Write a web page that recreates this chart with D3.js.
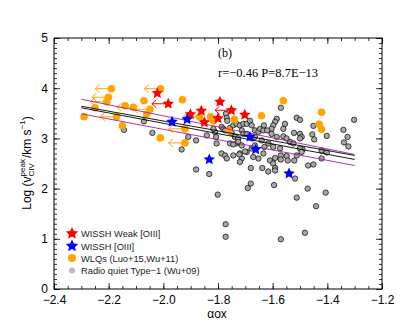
<!DOCTYPE html>
<html>
<head>
<meta charset="utf-8">
<script src="https://cdn.jsdelivr.net/npm/d3@7"></script>
<style>
  body { margin: 0; background: #fff; }
  svg { display: block; }
  .tick text { font-family: "Liberation Sans", Arial, sans-serif; font-size: 12px; fill: #000; }
</style>
</head>
<body>
<div id="chart"></div>
<script>
// Radio quiet Type-1 (Wu+09)
var grayX = [-2.144,-2.071,-2.040,-1.933,-1.909,-1.880,-1.880,-1.832,-1.801,-1.772,-1.772,
  -1.771,-1.768,-1.766,-1.787,-1.780,-1.774,-1.762,-1.756,-1.744,-1.732,-1.720,-1.707,-1.695,-1.683,-1.677,
  -1.713,-1.707,-1.695,-1.750,-1.738,-1.726,-1.677,-1.665,-1.732,-1.756,-1.744,-1.726,-1.713,
  -1.787,-1.774,-1.768,-1.720,-1.713,-1.695,-1.677,-1.665,-1.811,-1.807,-1.805,-1.841,-1.817,
  -1.665,-1.652,-1.646,-1.634,-1.640,-1.630,-1.722,-1.701,-1.720,-1.680,-1.680,-1.691,
  -1.652,-1.634,-1.638,-1.616,-1.610,-1.598,-1.591,-1.591,-1.591,-1.570,-1.570,-1.549,-1.545,-1.521,-1.512,
  -1.518,-1.595,-1.472,-1.512,-1.406,-1.441,-1.482,-1.570,-1.470,-1.451,-1.491,-1.421,-1.421,-1.402,-1.323,
  -1.570,-1.585,-1.591,-1.598,-1.604,-1.555,-1.561,-1.632,-1.620,-1.512,-1.500,-1.522,-1.500,-1.494,-1.500,
  -1.451,-1.455,-1.448,-1.402,-1.341,-1.326,-1.339,-1.302,-1.585,-1.561,-1.549,-1.537,-1.616,-1.500,-1.494,
  -1.604,-1.573,-1.598,-1.524,-1.671,-1.744];
var grayY = [3.17,3.34,3.11,2.78,3.03,2.96,2.38,2.29,1.88,1.29,1.04,
  3.49,3.41,3.35,3.23,3.19,3.16,3.16,3.21,3.26,3.29,3.26,3.29,3.29,3.35,3.26,
  3.16,3.09,3.09,3.11,3.03,3.00,3.00,3.03,2.90,2.90,2.88,2.93,2.86,
  2.70,2.66,2.60,2.70,2.60,2.73,2.80,2.86,3.13,3.03,2.90,3.06,3.19,
  3.16,3.13,3.19,3.16,2.96,2.83,2.68,2.74,2.53,2.41,2.10,2.01,
  2.60,2.70,2.41,2.34,2.56,2.50,2.41,2.36,2.61,2.66,2.58,2.65,2.56,2.56,2.66,
  2.20,2.07,2.00,1.82,1.92,1.65,1.12,0.99,2.46,2.48,2.78,2.76,2.60,2.72,2.84,
  3.61,3.39,3.33,3.26,3.19,3.29,3.19,3.26,3.16,3.41,3.37,3.11,3.09,3.03,3.00,
  3.25,3.08,2.98,3.05,3.17,3.03,2.92,3.37,3.03,3.04,3.00,2.93,2.90,2.80,2.73,
  3.09,2.80,2.83,2.90,2.63,2.66];

// WLQs (Luo+15, Wu+11); limit = upper limit on alpha_ox (arrow)
var wlqX = [-2.290,-2.250,-2.190,-2.201,-2.207,-2.140,-2.110,-2.171,-2.150,-2.071,-2.049,-2.061,-2.010,-2.011,
  -1.930,-1.921,-1.921,-1.868,-1.827,-1.817,-1.740,-1.761,-1.641,-1.561,-1.421,-1.430,-1.421];
var wlqY = [3.43,3.61,3.99,3.82,3.73,3.65,3.62,3.43,3.25,3.75,3.58,3.48,3.99,3.01,
  3.77,3.19,2.91,3.43,3.43,3.35,3.38,3.15,3.45,3.75,3.52,3.28,3.18];
var wlqLimit = [0,0,1,1,1,0,1,1,0,0,1,0,1,0,
  0,1,1,1,0,0,0,0,0,0,0,0,0];

// WISSH weak [OIII]
var weakX = [-2.022,-1.982,-1.901,-1.861,-1.850,-1.800,-1.793,-1.751,-1.702];
var weakY = [3.90,3.69,3.48,3.55,3.32,3.40,3.73,3.56,3.47];
var weakLimit = [0,1,0,0,0,0,0,1,0];

// WISSH [OIII]
var oiiiX = [-1.968,-1.913,-1.683,-1.662,-1.832,-1.540];
var oiiiY = [3.33,3.38,3.03,2.78,2.58,2.30];

// fits
var fitX = [-2.3, -1.3];
var fitBlackA = [3.64, 2.66];
var fitBlackB = [3.61, 2.58];
var fitUpper = [3.78, 2.68];
var fitLower = [3.49, 2.46];

var xTicks = [-2.4,-2.2,-2.0,-1.8,-1.6,-1.4,-1.2];
var yTicks = [0,1,2,3,4,5];

var legendLabels = ["WISSH Weak [OIII]", "WISSH [OIII]", "WLQs (Luo+15,Wu+11)", "Radio quiet Type\u22121 (Wu+09)"];

var width = 415, height = 332;
var plotL = 54, plotR = 382, plotT = 38, plotB = 289;
var arrowLen = 0.06;

var svg = d3.select("#chart").append("svg")
  .attr("width", width)
  .attr("height", height);

var x = d3.scaleLinear().domain([-2.4, -1.2]).range([plotL, plotR]);
var y = d3.scaleLinear().domain([0, 5]).range([plotB, plotT]);

function addAxis(axis, tx, ty, labels) {
  var g = svg.append("g").attr("transform", "translate(" + tx + "," + ty + ")").call(axis);
  g.select(".domain").remove();
  g.selectAll("line").attr("stroke", "#000").attr("stroke-width", 0.8);
  if (!labels) g.selectAll("text").remove();
  return g;
}

// fat five-point star, outer radius R
function starPath(R) {
  var pts = [];
  for (var k = 0; k < 10; k++) {
    var r = k % 2 ? R * 0.48 : R;
    var a = -Math.PI / 2 + k * Math.PI / 5;
    pts.push([r * Math.cos(a), r * Math.sin(a)]);
  }
  return "M" + pts.join("L") + "Z";
}

var xMinor = d3.range(-2.4, -1.199, 0.05);
var yMinor = d3.range(0, 5.001, 0.1);

// minor ticks, all four sides
addAxis(d3.axisBottom(x).tickValues(xMinor).tickSizeInner(-3).tickSizeOuter(0), 0, plotB, false);
addAxis(d3.axisTop(x).tickValues(xMinor).tickSizeInner(-3).tickSizeOuter(0), 0, plotT, false);
addAxis(d3.axisLeft(y).tickValues(yMinor).tickSizeInner(-3).tickSizeOuter(0), plotL, 0, false);
addAxis(d3.axisRight(y).tickValues(yMinor).tickSizeInner(-3).tickSizeOuter(0), plotR, 0, false);

// major ticks
addAxis(d3.axisBottom(x).tickValues(xTicks).tickFormat(d3.format(".1f")).tickSizeInner(-6).tickSizeOuter(0).tickPadding(6), 0, plotB, true);
addAxis(d3.axisTop(x).tickValues(xTicks).tickSizeInner(-6).tickSizeOuter(0), 0, plotT, false);
addAxis(d3.axisLeft(y).tickValues(yTicks).tickFormat(d3.format("d")).tickSizeInner(-6).tickSizeOuter(0).tickPadding(6), plotL, 0, true);
addAxis(d3.axisRight(y).tickValues(yTicks).tickSizeInner(-6).tickSizeOuter(0), plotR, 0, false);

svg.append("rect")
  .attr("x", plotL).attr("y", plotT)
  .attr("width", plotR - plotL).attr("height", plotB - plotT)
  .attr("fill", "none").attr("stroke", "#000").attr("stroke-width", 1);

// gray points
var gray = grayX.map(function(d, i){ return {x: d, y: grayY[i]}; });
svg.append("g").selectAll("circle")
  .data(gray).enter().append("circle")
  .attr("cx", function(d){ return x(d.x); })
  .attr("cy", function(d){ return y(d.y); })
  .attr("r", 2.7)
  .attr("fill", "#a8a8a8")
  .attr("stroke", "#000")
  .attr("stroke-width", 0.7);

function drawArrows(g, xs, ys, flags, color) {
  xs.forEach(function(d, i){
    if (!flags[i]) return;
    var x1 = x(d), x2 = x(d - arrowLen), yy = y(ys[i]);
    g.append("line")
      .attr("x1", x1).attr("y1", yy).attr("x2", x2).attr("y2", yy)
      .attr("stroke", color).attr("stroke-width", 1);
    g.append("path")
      .attr("d", "M" + (x2 + 4.5) + "," + (yy - 4) + "L" + x2 + "," + yy + "L" + (x2 + 4.5) + "," + (yy + 4))
      .attr("fill", "none").attr("stroke", color).attr("stroke-width", 1);
  });
}

// WLQs
var wlqG = svg.append("g");
drawArrows(wlqG, wlqX, wlqY, wlqLimit, "#ffa500");
wlqG.selectAll("circle")
  .data(wlqX.map(function(d, i){ return {x: d, y: wlqY[i]}; }))
  .enter().append("circle")
  .attr("cx", function(d){ return x(d.x); })
  .attr("cy", function(d){ return y(d.y); })
  .attr("r", 3.8)
  .attr("fill", "#ffa500");

// fit lines
var line = d3.line()
  .x(function(d){ return x(d[0]); })
  .y(function(d){ return y(d[1]); });
[[fitUpper, "#a020a0"], [fitLower, "#a020a0"], [fitBlackA, "#000"], [fitBlackB, "#000"]].forEach(function(f){
  svg.append("path")
    .attr("d", line(fitX.map(function(d, i){ return [d, f[0][i]]; })))
    .attr("fill", "none")
    .attr("stroke", f[1])
    .attr("stroke-width", 0.9);
});

// stars
var star = starPath(6);
var weakG = svg.append("g");
drawArrows(weakG, weakX, weakY, weakLimit, "#ff0000");
weakG.selectAll("path.star")
  .data(weakX.map(function(d, i){ return {x: d, y: weakY[i]}; }))
  .enter().append("path")
  .attr("class", "star")
  .attr("d", star)
  .attr("transform", function(d){ return "translate(" + x(d.x) + "," + y(d.y) + ")"; })
  .attr("fill", "#ff0000");

svg.append("g").selectAll("path")
  .data(oiiiX.map(function(d, i){ return {x: d, y: oiiiY[i]}; }))
  .enter().append("path")
  .attr("d", star)
  .attr("transform", function(d){ return "translate(" + x(d.x) + "," + y(d.y) + ")"; })
  .attr("fill", "#0000ff");

// annotations
svg.append("text")
  .attr("x", 225).attr("y", 57)
  .attr("text-anchor", "middle")
  .attr("font-family", "'Liberation Serif', 'Times New Roman', serif")
  .attr("font-size", 12)
  .text("(b)");
svg.append("text")
  .attr("x", 218).attr("y", 77)
  .attr("font-family", "'Liberation Serif', 'Times New Roman', serif")
  .attr("font-size", 12.5)
  .text("r=\u22120.46 P=8.7E\u221213");

// x label
svg.append("text")
  .attr("x", 217).attr("y", 318)
  .attr("text-anchor", "middle")
  .attr("font-family", "'Liberation Sans', Arial, sans-serif")
  .attr("font-size", 12)
  .text("\u03b1ox");

// y label, built piece by piece
var yl = svg.append("g").attr("transform", "translate(31,163) rotate(-90)");
var inner = yl.append("g");
var cx = 0;
function piece(txt, size, dy) {
  var t = inner.append("text")
    .attr("x", cx).attr("y", dy)
    .attr("font-family", "'Liberation Sans', Arial, sans-serif")
    .attr("font-size", size)
    .text(txt);
  return t.node().getComputedTextLength();
}
cx += piece("Log (v", 12, 0);
var w1 = piece("peak", 8, -6);
var w2 = piece("CIV", 8, 3);
cx += Math.max(w1, w2) + 1;
cx += piece("/km s", 12, 0);
cx += piece("\u22121", 8, -6);
cx += piece(")", 12, 0);
inner.attr("transform", "translate(" + (-cx / 2) + ",0)");

// legend
var legendG = svg.append("g");
var rows = [233.5, 246, 258, 270.5];
legendG.append("path").attr("d", starPath(6.5))
  .attr("transform", "translate(72," + rows[0] + ")").attr("fill", "#ff0000");
legendG.append("path").attr("d", starPath(6.5))
  .attr("transform", "translate(72," + rows[1] + ")").attr("fill", "#0000ff");
legendG.append("circle").attr("cx", 72).attr("cy", rows[2]).attr("r", 4).attr("fill", "#ffa500");
legendG.append("circle").attr("cx", 72).attr("cy", rows[3]).attr("r", 3).attr("fill", "#bbbbbb");
legendG.selectAll("text")
  .data(legendLabels).enter().append("text")
  .attr("x", 81)
  .attr("y", function(d, i){ return rows[i] + 3.5; })
  .attr("font-family", "'Liberation Sans', Arial, sans-serif")
  .attr("font-size", 9.3)
  .attr("fill", "#222")
  .text(function(d){ return d; });
</script>
</body>
</html>
